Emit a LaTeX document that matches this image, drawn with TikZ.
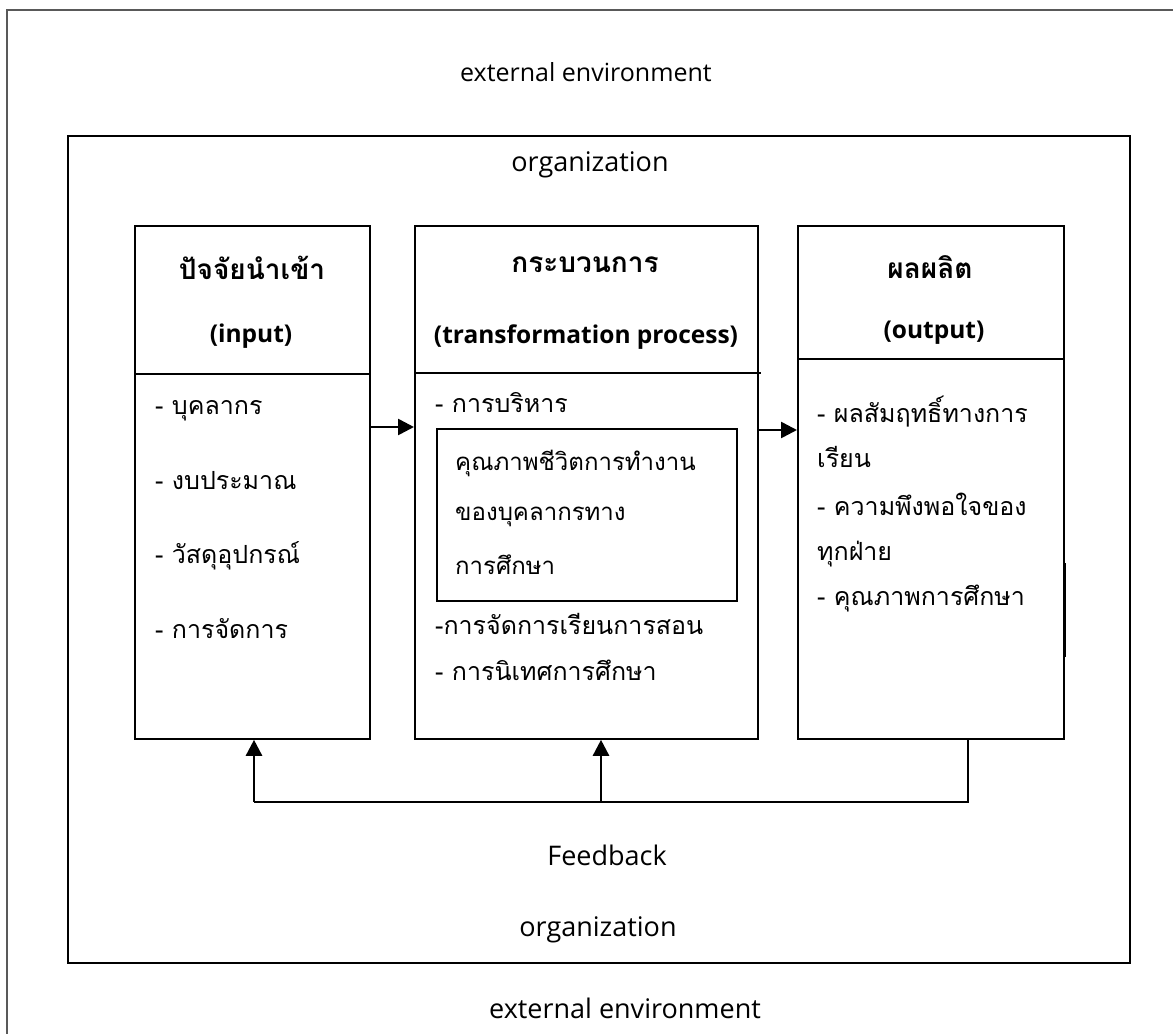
\documentclass[tikz,border=0pt]{standalone}
\usepackage{fontspec}
\usetikzlibrary{arrows.meta}
\newfontfamily\thfont[Script=Thai]{Loma}
\newfontfamily\lafont{Open Sans}
\begin{document}
\begin{tikzpicture}[x=1pt,y=-1pt,
  boxline/.style={draw=black,line width=1.8pt},
  th/.style={font=\thfont\fontsize{25}{29}\selectfont,inner sep=0pt},
  thin/.style={font=\thfont\fontsize{24}{28}\selectfont,inner sep=0pt},
  thb/.style={font=\thfont\bfseries\fontsize{28}{32}\selectfont,inner sep=0pt},
  la/.style={font=\lafont\fontsize{27}{31}\selectfont,inner sep=0pt},
  lab/.style={font=\lafont\bfseries\fontsize{24.5}{28}\selectfont,inner sep=0pt},
  arr/.style={line width=2.6pt,-{Triangle[length=16pt,width=16pt]}},
  fb/.style={line width=1.8pt}]
\useasboundingbox (0,0) rectangle (1173,1034);
\fill[white] (0,0) rectangle (1173,1034);
% outer frame (external environment), only top and left edges visible
\draw[line width=1.8pt,draw=black!65] (1173,10) -- (7,10) -- (7,1034);
% organization
\draw[boxline,line width=1.6pt] (68,136) rectangle (1130,963);
\node[la,font=\lafont\fontsize{25}{29}\selectfont] (ext1) at (586,72) {external environment};
\node[la] (org1) at (590,165) {organization};
\node[la] (fbl) at (607,855) {Feedback};
\node[la] (org2) at (598,930) {organization};
\node[la] (ext2) at (625,1008) {external environment};
% boxes
\node[boxline,anchor=north west,minimum width=235pt,minimum height=513pt,inner sep=0pt] (inp) at (134,225) {};
\node[boxline,anchor=north west,minimum width=343pt,minimum height=513pt,inner sep=0pt] (proc) at (414,225) {};
\node[boxline,anchor=north west,minimum width=266pt,minimum height=513pt,inner sep=0pt] (outp) at (797,225) {};
\draw[boxline] (inp.west |- 0,374) -- (inp.east |- 0,374);
\draw[boxline] (proc.west |- 0,373) -- (761,373);
\draw[boxline] (outp.west |- 0,359) -- (outp.east |- 0,359);
\draw[line width=3pt] (1064,563) -- (1064,657);
% input texts
\node[thb] (t1) at (252,268) {ปัจจัยนำเข้า};
\node[lab] (t2) at (251,336) {(input)};
\node[th,anchor=mid west] (i1) at (155,412) {- บุคลากร};
\node[th,anchor=mid west] (i2) at (155,487) {- งบประมาณ};
\node[th,anchor=mid west] (i3) at (155,561) {- วัสดุอุปกรณ์};
\node[th,anchor=mid west] (i4) at (155,636) {- การจัดการ};
% process texts
\node[thb] (p1) at (585,265) {กระบวนการ};
\node[lab] (p2) at (586,337) {(transformation process)};
\node[th,anchor=mid west] (p3) at (435,410) {- การบริหาร};
\node[boxline,line width=1.6pt,anchor=north west,minimum width=300pt,minimum height=172pt,inner sep=0pt] (qwl) at (436,428) {};
\node[thin,anchor=mid west] (q1) at (455,468) {คุณภาพชีวิตการทำงาน};
\node[thin,anchor=mid west] (q2) at (455,518) {ของบุคลากรทาง};
\node[thin,anchor=mid west] (q3) at (455,572) {การศึกษา};
\node[th,anchor=mid west] (p4) at (435,632) {-การจัดการเรียนการสอน};
\node[th,anchor=mid west] (p5) at (435,678) {- การนิเทศการศึกษา};
% output texts
\node[thb] (o1) at (930,267) {ผลผลิต};
\node[lab] (o2) at (934,333) {(output)};
\node[th,anchor=mid west] (o3) at (817,420) {- ผลสัมฤทธิ์ทางการ};
\node[th,anchor=mid west] (o4) at (817,465) {เรียน};
\node[th,anchor=mid west] (o5) at (817,513) {- ความพึงพอใจของ};
\node[th,anchor=mid west] (o6) at (817,558) {ทุกฝ่าย};
\node[th,anchor=mid west] (o7) at (817,603) {- คุณภาพการศึกษา};
% arrows
\draw[arr] (inp.east |- 0,427) -- (proc.west |- 0,427);
\draw[arr] (proc.east |- 0,430) -- (outp.west |- 0,430);
% feedback
\coordinate (fr) at (968,802);
\coordinate (fl) at (254,802);
\coordinate (fm) at (601,802);
\draw[fb] (outp.south -| fr) -- (fr) -- (fl);
\draw[arr] (fl) -- (inp.south -| fl);
\draw[arr] (fm) -- (proc.south -| fm);
\end{tikzpicture}
\end{document}
